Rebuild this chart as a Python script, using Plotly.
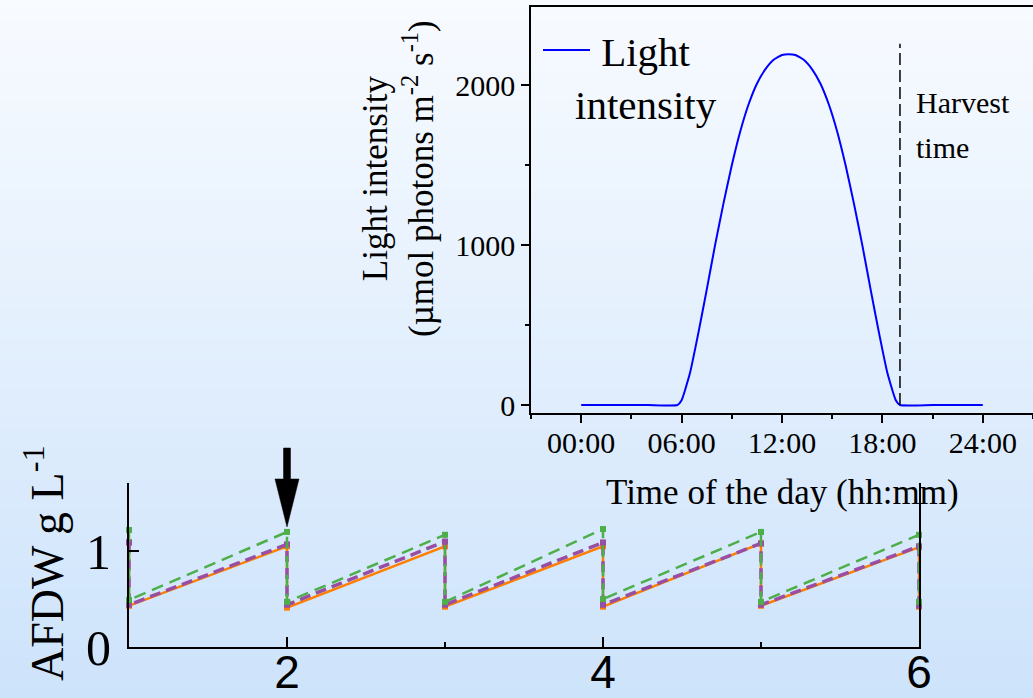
import plotly.graph_objects as go

# ---------------- data ----------------
DAYS = [1, 2, 3, 4, 5, 6]
GREEN_BEFORE = [1.22, 1.20, 1.17, 1.23, 1.20, 1.17]
GREEN_AFTER = [0.49, 0.47, 0.47, 0.50, 0.47, 0.47]
ORANGE_BEFORE = [1.09, 1.05, 1.05, 1.05, 1.08, 1.04]
ORANGE_AFTER = [0.43, 0.41, 0.42, 0.42, 0.43, 0.42]
PURPLE_BEFORE = [1.09, 1.07, 1.10, 1.09, 1.08, 1.05]
PURPLE_AFTER = [0.44, 0.44, 0.44, 0.44, 0.44, 0.43]

HOURS = [0, 2, 4, 5.75, 6.0, 6.5, 7.0, 7.5, 8.0, 8.5, 9.0, 9.5, 10.0, 10.5, 11.0,
         11.5, 12.0, 12.4, 12.8, 13.3, 13.8, 14.3, 14.8, 15.3, 15.8, 16.3, 16.8,
         17.3, 17.8, 18.3, 18.8, 19.05, 21, 24]
LIGHT = [0, 0, 0, 0, 30, 200, 450, 720, 1000, 1260, 1500, 1710, 1880, 2010, 2100,
         2160, 2190, 2195, 2190, 2160, 2100, 2010, 1880, 1710, 1500, 1260, 1000,
         720, 450, 200, 30, 0, 0, 0]
HARVEST_HOUR = 19.05
HARVEST_LINE_TOP = 2260
TIME_TICKS = [0, 6, 12, 18, 24]
TIME_LABELS = ["00:00", "06:00", "12:00", "18:00", "24:00"]
LIGHT_TICKS = [0, 1000, 2000]
DAY_TICKS = [2, 4, 6]
AFDW_TICKS = [0, 1]
ARROW_DAY = 2

W, H = 1033, 698
SERIF = "Liberation Serif"
SANS = "Liberation Sans"


def saw(before, after):
    xs, ys = [], []
    for d, b, a in zip(DAYS, before, after):
        xs += [d, d]
        ys += [b, a]
    return xs, ys


fig = go.Figure()

series = [
    ("orange", ORANGE_BEFORE, ORANGE_AFTER, "#ff7f00", "solid", 2.5),
    ("purple", PURPLE_BEFORE, PURPLE_AFTER, "#984ea3", "11px,6px", 3.5),
    ("green", GREEN_BEFORE, GREEN_AFTER, "#4daf4a", "12px,7px", 2.5),
]
for name, b, a, col, dash, lw in series:
    xs, ys = saw(b, a)
    fig.add_trace(go.Scatter(
        x=xs, y=ys, mode="lines+markers", name=name, showlegend=False,
        line=dict(color=col, width=lw, dash=dash),
        marker=dict(symbol="square", size=6, color=col),
        cliponaxis=False, xaxis="x", yaxis="y"))

fig.add_trace(go.Scatter(
    x=HOURS, y=LIGHT, mode="lines", name="Light intensity", showlegend=False,
    line=dict(color="#0000ff", width=2, shape="spline", smoothing=0.45),
    xaxis="x2", yaxis="y2"))

# ---------------- background gradient ----------------
shapes = []
N = 70
top_c = (248, 251, 255)
bot_c = (205, 227, 251)
for i in range(N):
    t = (i + 0.5) / N
    c = tuple(round(top_c[k] + (bot_c[k] - top_c[k]) * t) for k in range(3))
    shapes.append(dict(type="rect", xref="paper", yref="paper",
                       x0=0, x1=1, y0=max(0, 1 - (i + 1) / N - 0.002), y1=1 - i / N,
                       fillcolor="rgb(%d,%d,%d)" % c, line=dict(width=0),
                       layer="below"))

# harvest dashed line
shapes.append(dict(type="line", xref="x2", yref="y2",
                   x0=HARVEST_HOUR, x1=HARVEST_HOUR, y0=0, y1=HARVEST_LINE_TOP,
                   line=dict(color="black", width=1.5, dash="12px,5px")))
# legend sample line
shapes.append(dict(type="line", xref="paper", yref="paper",
                   x0=543 / W, x1=590 / W, y0=1 - 50 / H, y1=1 - 50 / H,
                   line=dict(color="#0000ff", width=2)))


def py(px):
    return 1 - px / H


# arrow (pixel-sized path anchored at day 2)
ay_top, ay_base, ay_tip = py(448), py(479), py(527)
shapes.append(dict(
    type="path", xref="x", yref="paper", xsizemode="pixel", xanchor=ARROW_DAY,
    path=("M-3.5,%f L3.5,%f L3.5,%f L12,%f L0,%f L-12,%f L-3.5,%f Z" %
          (ay_top, ay_top, ay_base, ay_base, ay_tip, ay_base, ay_base)),
    fillcolor="black", line=dict(color="black", width=0.5)))

annotations = [
    dict(text="Light<br>intensity", x=646 / W, y=py(78), xref="paper", yref="paper",
         showarrow=False, align="center", xanchor="center", yanchor="middle",
         font=dict(family=SERIF, size=41, color="black")),
    dict(text="Harvest", x=914 / W, y=py(102), xref="paper", yref="paper",
         showarrow=False, xanchor="left", yanchor="middle",
         font=dict(family=SERIF, size=30, color="black")),
    dict(text="time", x=914 / W, y=py(147), xref="paper", yref="paper",
         showarrow=False, xanchor="left", yanchor="middle",
         font=dict(family=SERIF, size=30, color="black")),
    dict(text="Light intensity<br>(µmol photons m<sup>-2</sup> s<sup>-1</sup>)",
         x=398 / W, y=py(179), xref="paper", yref="paper", textangle=-90,
         showarrow=False, align="center", xanchor="center", yanchor="middle",
         font=dict(family=SERIF, size=35, color="black")),
    dict(text="Time of the day (hh:mm)", x=782 / W, y=py(492), xref="paper", yref="paper",
         showarrow=False, xanchor="center", yanchor="middle",
         font=dict(family=SERIF, size=35, color="black")),
    dict(text="AFDW g L<sup>-1</sup>", x=44 / W, y=py(563), xref="paper", yref="paper",
         textangle=-90, showarrow=False, xanchor="center", yanchor="middle",
         font=dict(family=SERIF, size=46, color="black")),
]

fig.update_layout(
    width=W, height=H, margin=dict(l=0, r=0, t=0, b=0, pad=0, autoexpand=False),
    paper_bgcolor="rgba(0,0,0,0)", plot_bgcolor="rgba(0,0,0,0)",
    shapes=shapes, annotations=annotations, showlegend=False,
    xaxis=dict(domain=[129 / W, 919 / W], range=[1, 6], anchor="y", automargin=False,
               tickmode="array", tickvals=DAY_TICKS, ticks="inside", ticklen=10,
               tickwidth=2, tickcolor="black", showline=True, linewidth=2,
               linecolor="black", showgrid=False, zeroline=False,
               ticklabelstandoff=-16,
               tickfont=dict(family=SANS, size=46, color="black"),
               minor=dict(dtick=1, tick0=0, ticks="inside", ticklen=5,
                          tickwidth=2, tickcolor="black", showgrid=False)),
    yaxis=dict(domain=[py(647), py(483)], range=[0, 1.71], anchor="x", automargin=False,
               tickmode="array", tickvals=AFDW_TICKS, ticks="inside", ticklen=10,
               tickwidth=2, tickcolor="black", showline=True, linewidth=2,
               linecolor="black", mirror=True, showgrid=False, zeroline=False,
               ticklabelstandoff=6,
               tickfont=dict(family=SERIF, size=50, color="black")),
    xaxis2=dict(domain=[531 / W, 1.0], range=[-3, 27], anchor="y2", automargin=False,
                tickmode="array", tickvals=TIME_TICKS, ticktext=TIME_LABELS,
                ticks="outside", ticklen=8, tickwidth=1.5, tickcolor="black",
                showline=True, linewidth=1.5, linecolor="black", mirror=True,
                showgrid=False, zeroline=False, ticklabelstandoff=-6,
                tickfont=dict(family=SERIF, size=30, color="black"),
                minor=dict(dtick=3, tick0=0, ticks="outside", ticklen=4,
                           tickwidth=1.5, tickcolor="black", showgrid=False)),
    yaxis2=dict(domain=[py(413), py(7)], range=[-50, 2490], anchor="x2", automargin=False,
                tickmode="array", tickvals=LIGHT_TICKS, ticks="outside", ticklen=8,
                tickwidth=1.5, tickcolor="black", showline=True, linewidth=1.5,
                linecolor="black", mirror=True, showgrid=False, zeroline=False,
                tickfont=dict(family=SERIF, size=30, color="black"),
                minor=dict(dtick=500, tick0=0, ticks="outside", ticklen=4,
                           tickwidth=1.5, tickcolor="black", showgrid=False)),
)

fig.write_html("out.html")
